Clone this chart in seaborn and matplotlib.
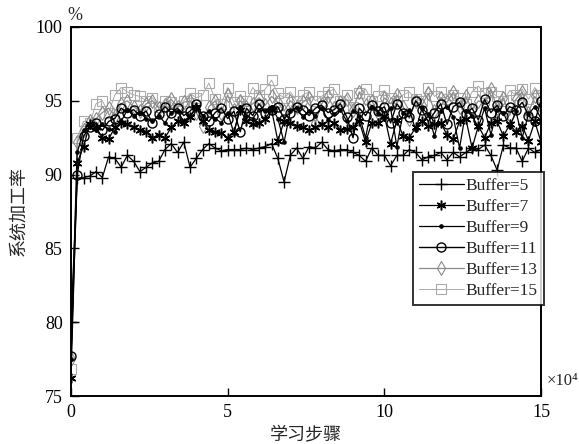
import numpy as np
import pandas as pd
import matplotlib
matplotlib.use("Agg")
import matplotlib.pyplot as plt
import seaborn as sns

steps = [round(i * 0.2, 1) for i in range(76)]

buf5 = [80.0, 89.75, 89.8, 89.9, 90.2, 89.8, 91.2, 91.1, 90.5, 91.3, 90.9, 90.2, 90.5, 90.8, 90.9, 91.7,
        92.1, 91.5, 92.2, 90.5, 91.1, 91.7, 92.1, 91.8, 91.6, 91.7, 91.7, 91.7, 91.8, 91.7, 91.8, 91.9,
        92.1, 91.1, 89.5, 91.3, 91.8, 91.1, 91.9, 91.8, 92.2, 91.7, 91.6, 91.7, 91.7, 91.5, 91.3, 90.9,
        91.8, 91.3, 91.3, 90.6, 91.3, 91.3, 91.7, 91.5, 91.0, 91.2, 91.3, 91.5, 91.0, 91.5, 91.2, 91.5,
        91.8, 91.7, 92.0, 91.3, 90.3, 92.0, 91.8, 91.8, 90.9, 91.8, 91.5, 91.7]
buf7 = [76.2, 90.8, 91.9, 93.4, 93.2, 92.5, 92.4, 93.2, 93.5, 93.4, 93.2, 93.0, 92.9, 92.5, 92.7, 92.5,
        93.2, 93.6, 93.5, 93.9, 94.6, 93.6, 93.0, 92.9, 92.8, 92.5, 92.9, 94.4, 93.6, 93.4, 93.5, 93.8,
        94.4, 92.3, 93.6, 93.5, 93.3, 93.2, 93.0, 93.2, 93.4, 93.2, 93.5, 93.0, 93.1, 93.2, 93.6, 92.2,
        93.5, 93.5, 94.0, 92.1, 93.7, 92.6, 92.5, 93.2, 93.6, 93.3, 93.4, 93.5, 92.7, 92.4, 93.6, 93.8,
        91.8, 93.3, 92.5, 93.5, 93.6, 92.6, 93.4, 92.9, 93.3, 92.3, 93.6, 92.2]
buf9 = [77.5, 91.5, 93.0, 93.2, 93.0, 93.4, 93.1, 92.9, 93.6, 94.4, 94.0, 94.2, 93.8, 93.6, 94.0, 93.5,
        94.2, 94.3, 93.6, 94.0, 94.5, 94.0, 94.3, 93.8, 93.5, 94.2, 92.8, 94.6, 94.0, 93.8, 94.4, 94.3,
        94.6, 93.8, 92.2, 94.3, 94.5, 93.9, 94.3, 94.0, 94.5, 93.7, 94.1, 94.4, 93.6, 94.3, 94.0, 92.5,
        94.6, 94.2, 93.8, 94.5, 91.9, 94.2, 94.4, 93.0, 94.5, 94.1, 92.6, 94.3, 94.6, 93.9, 91.8, 94.3,
        94.0, 93.2, 94.5, 92.7, 94.4, 94.2, 93.2, 94.3, 92.5, 94.1, 94.6, 93.8]
buf11 = [77.7, 90.0, 92.6, 93.2, 93.5, 93.0, 93.6, 93.8, 94.5, 94.2, 94.4, 94.0, 94.3, 93.5, 94.1, 94.6,
         94.2, 94.5, 94.0, 94.3, 94.8, 94.0, 93.6, 94.2, 94.5, 93.8, 94.3, 92.9, 94.5, 94.0, 94.8, 94.2,
         94.4, 94.6, 93.8, 94.2, 94.6, 94.4, 94.0, 94.5, 94.7, 94.2, 94.4, 94.8, 93.9, 92.5, 94.5, 94.0,
         94.7, 94.3, 94.6, 93.5, 94.8, 94.2, 93.9, 95.0, 94.4, 93.6, 94.2, 94.8, 93.4, 94.6, 94.9, 94.1,
         94.5, 93.7, 95.1, 94.2, 94.7, 94.0, 94.6, 94.4, 94.9, 94.0, 93.6, 95.0]
buf13 = [77.5, 92.2, 93.0, 93.6, 93.8, 94.2, 94.5, 94.0, 94.8, 95.0, 94.6, 94.3, 94.8, 95.0, 94.5, 94.7,
         95.1, 94.6, 94.9, 95.0, 94.2, 93.3, 94.6, 95.0, 94.2, 95.4, 94.4, 95.0, 94.6, 94.8, 95.2, 94.7,
         95.3, 94.9, 94.3, 95.0, 94.6, 94.9, 95.2, 93.5, 94.8, 95.3, 94.5, 94.9, 95.1, 94.4, 95.6, 94.7,
         95.0, 94.2, 95.2, 94.8, 95.4, 94.6, 93.8, 95.0, 94.7, 95.5, 94.3, 95.2, 94.9, 95.6, 94.6, 95.3,
         94.4, 95.0, 94.8, 95.8, 94.5, 95.2, 94.0, 95.1, 95.6, 94.2, 95.3, 94.6]
buf15 = [76.8, 92.5, 93.6, 93.5, 94.8, 95.0, 94.2, 95.4, 95.9, 95.6, 95.4, 95.3, 95.0, 95.2, 94.6, 95.0,
         94.9, 94.5, 95.0, 95.5, 95.2, 95.4, 96.2, 95.1, 94.8, 95.9, 94.9, 95.3, 95.0, 95.9, 95.4, 95.8,
         96.4, 95.5, 95.2, 95.6, 95.0, 95.4, 95.6, 95.0, 95.3, 95.6, 95.8, 95.0, 95.4, 94.6, 95.5, 95.8,
         95.0, 95.3, 95.7, 95.2, 95.0, 95.4, 95.6, 95.1, 95.0, 95.9, 95.3, 95.6, 95.1, 95.4, 95.2, 94.8,
         95.6, 96.0, 95.5, 95.6, 95.3, 95.0, 95.7, 95.4, 95.8, 95.1, 95.9, 95.4]

labels = ["Buffer=5", "Buffer=7", "Buffer=9", "Buffer=11", "Buffer=13", "Buffer=15"]
series = [buf5, buf7, buf9, buf11, buf13, buf15]

sns.set_style("ticks")
plt.rcParams["font.family"] = ["Liberation Serif", "Noto Sans CJK SC"]
plt.rcParams["xtick.direction"] = "in"
plt.rcParams["ytick.direction"] = "in"

fig = plt.figure(figsize=(5.79, 4.44), dpi=100)
ax = fig.add_axes([0.1226, 0.1081, 0.8118, 0.8311])

styles = {
    "Buffer=5": dict(color="black", marker="+", ms=9, mew=1.0, lw=0.9, z=6),
    "Buffer=7": dict(color="black", marker=(6, 2, 0), ms=7, mew=1.1, lw=0.9, z=5),
    "Buffer=9": dict(color="black", marker=".", ms=5, mew=0.8, lw=0.9, z=4),
    "Buffer=11": dict(color="black", marker="o", ms=6.5, mew=1.0, lw=1.0, z=3),
    "Buffer=13": dict(color="#8a8a8a", marker="d", ms=7, mew=0.8, lw=0.9, z=2),
    "Buffer=15": dict(color="#ababab", marker="s", ms=7, mew=0.8, lw=0.7, z=1),
}

df = pd.DataFrame({"step": steps})
for lab, vals in zip(labels, series):
    df[lab] = vals

handles = {}
for lab in labels[::-1]:
    st = styles[lab]
    fc = st["color"] if lab in ("Buffer=7", "Buffer=9") else "none"
    sns.lineplot(data=df, x="step", y=lab, ax=ax, color=st["color"], marker=st["marker"],
                 markersize=st["ms"], markeredgewidth=st["mew"], markeredgecolor=st["color"],
                 markerfacecolor=fc, linewidth=st["lw"], zorder=st["z"], label=lab)
    handles[lab] = ax.get_lines()[-1]

ax.set_xlim(0, 15)
ax.set_ylim(75, 100)
ax.set_xticks([0, 5, 10, 15])
ax.set_yticks([75, 80, 85, 90, 95, 100])
ax.tick_params(axis="both", labelsize=13, length=6, width=1.0, colors="black", pad=6)
for sp in ax.spines.values():
    sp.set_visible(True)
    sp.set_linewidth(1.4)
    sp.set_color("black")

ax.set_xlabel("学习步骤", fontsize=13, labelpad=4)
ax.set_ylabel("系统加工率", fontsize=13, labelpad=6)
fig.text(0.13, 0.965, "%", fontsize=13, ha="center", va="center")
fig.text(0.944, 0.142, "×10⁴", fontsize=12, ha="left", va="center")

leg = ax.legend([handles[l] for l in labels], labels, loc="upper right",
                bbox_to_anchor=(1.006, 0.608), frameon=True, fancybox=False,
                fontsize=12.5, handlelength=2.6, handletextpad=0.1, borderpad=0.35,
                labelspacing=0.28, borderaxespad=0)
leg.get_frame().set_edgecolor("black")
leg.get_frame().set_linewidth(1.4)
leg.set_zorder(10)

fig.savefig("out.png", dpi=100)
